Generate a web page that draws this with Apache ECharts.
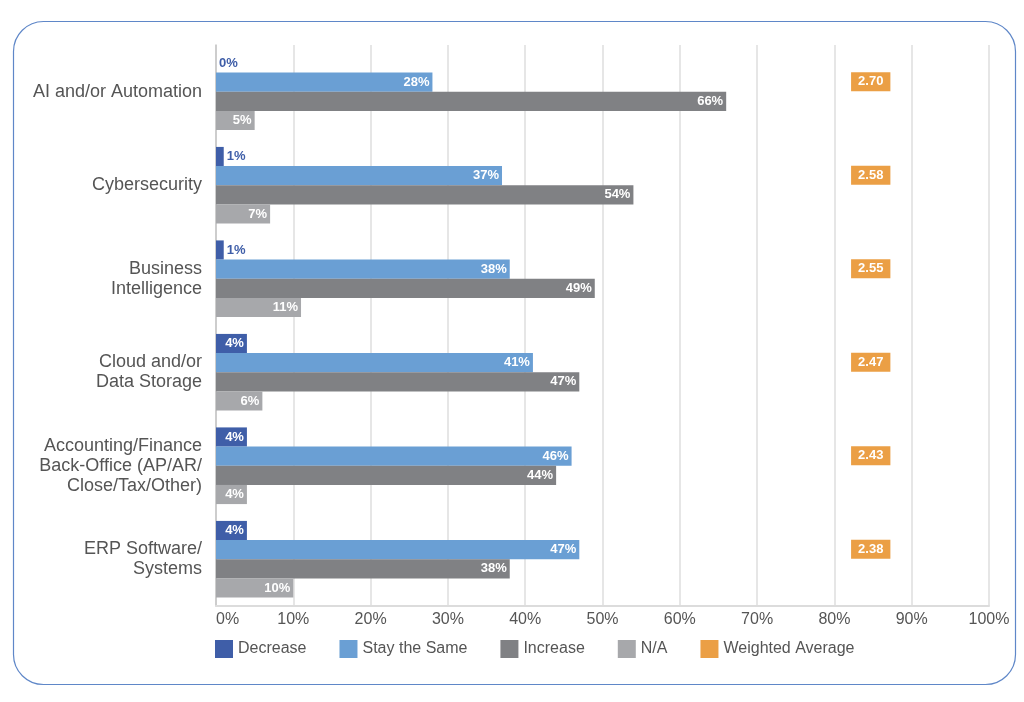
<!DOCTYPE html>
<html>
<head>
<meta charset="utf-8">
<script src="https://cdn.jsdelivr.net/npm/echarts@6/dist/echarts.min.js"></script>
<style>
html,body{margin:0;padding:0;background:#fff;}
#chart{width:1024px;height:702px;}
</style>
</head>
<body>
<div id="chart"></div>
<script>
var categories = ['AI and/or Automation', 'Cybersecurity', 'Business\nIntelligence', 'Cloud and/or\nData Storage', 'Accounting/Finance\nBack-Office (AP/AR/\nClose/Tax/Other)', 'ERP Software/\nSystems'];
var decrease = [0, 1, 1, 4, 4, 4];
var stayTheSame = [28, 37, 38, 41, 46, 47];
var increase = [66, 54, 49, 47, 44, 38];
var notApplicable = [5, 7, 11, 6, 4, 10];
var weightedAverage = ['2.70', '2.58', '2.55', '2.47', '2.43', '2.38'];
var weightedAverageColumn = 84.7;
var xTicks = [0, 10, 20, 30, 40, 50, 60, 70, 80, 90, 100];

var FONT = '"Liberation Sans", Arial, sans-serif';
var C_DEC = '#3f5ea8', C_STAY = '#6a9fd4', C_INC = '#808184', C_NA = '#a7a8ab', C_WA = '#eb9f45';

function barLabel() {
  return {
    show: true, position: 'insideRight', distance: 3,
    color: '#fff', fontWeight: 'bold', fontSize: 13, fontFamily: FONT,
    formatter: '{c}%'
  };
}
function decData() {
  return decrease.map(function (v) {
    if (v < 2) {
      return { value: v, label: { position: 'right', distance: 3, color: C_DEC } };
    }
    return v;
  });
}

var chart = echarts.init(document.getElementById('chart'));
chart.setOption({
  animation: false,
  backgroundColor: '#fff',
  textStyle: { fontFamily: FONT },
  graphic: [{
    type: 'rect', left: 11, top: 19, z: -10,
    shape: { width: 1002, height: 663, r: 30 },
    style: { fill: 'none', stroke: '#5f87c8', lineWidth: 1.2 }
  }],
  grid: { left: 216, right: 35, top: 45, bottom: 96, containLabel: false },
  legend: {
    left: 215, top: 640, padding: 0, itemWidth: 18, itemHeight: 18, itemGap: 33,
    textStyle: { fontSize: 16, color: '#555', fontFamily: FONT },
    data: [
      { name: 'Decrease', icon: 'rect' },
      { name: 'Stay the Same', icon: 'rect' },
      { name: 'Increase', icon: 'rect' },
      { name: 'N/A', icon: 'rect' },
      { name: 'Weighted Average', icon: 'rect', itemStyle: { color: C_WA, opacity: 1 } }
    ]
  },
  xAxis: {
    type: 'value', min: 0, max: 100, interval: 10,
    axisLabel: {
      formatter: function (v) { return xTicks.indexOf(v) >= 0 ? v + '%' : ''; },
      fontSize: 16, color: '#555', margin: 6, alignMinLabel: 'left', fontFamily: FONT
    },
    axisLine: { show: true, lineStyle: { color: '#dcdcdc', width: 2 } },
    axisTick: { show: false },
    splitLine: { show: true, lineStyle: { color: '#dedede', width: 1.5 } }
  },
  yAxis: {
    type: 'category', data: categories, inverse: true,
    axisLabel: { fontSize: 18, color: '#555', lineHeight: 20, margin: 14, fontFamily: FONT },
    axisLine: { show: true, lineStyle: { color: '#c4c4c4', width: 1.5 } },
    axisTick: { show: false }
  },
  series: [
    { name: 'Decrease', type: 'bar', data: decData(), itemStyle: { color: C_DEC },
      barGap: '0%', barCategoryGap: '18%', label: barLabel() },
    { name: 'Stay the Same', type: 'bar', data: stayTheSame, itemStyle: { color: C_STAY },
      barGap: '0%', barCategoryGap: '18%', label: barLabel() },
    { name: 'Increase', type: 'bar', data: increase, itemStyle: { color: C_INC },
      barGap: '0%', barCategoryGap: '18%', label: barLabel() },
    { name: 'N/A', type: 'bar', data: notApplicable, itemStyle: { color: C_NA },
      barGap: '0%', barCategoryGap: '18%', label: barLabel() },
    { name: 'Weighted Average', type: 'scatter', symbol: 'rect', symbolSize: 1,
      itemStyle: { color: C_WA, opacity: 0 },
      data: weightedAverage.map(function (w, i) { return [weightedAverageColumn, i]; }),
      label: {
        show: true, position: 'inside', offset: [0, -10],
        formatter: function (p) { return weightedAverage[p.dataIndex]; },
        backgroundColor: C_WA, color: '#fff', fontWeight: 'bold', fontSize: 13,
        fontFamily: FONT, padding: [3, 7, 3, 7], opacity: 1
      },
      z: 5
    }
  ]
});
</script>
</body>
</html>
